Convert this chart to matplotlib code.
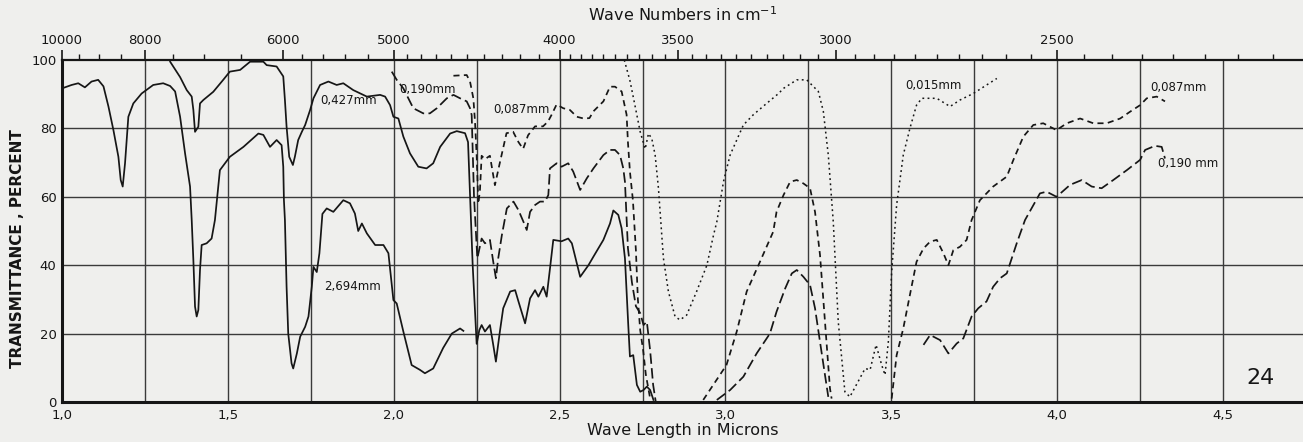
import numpy as np
import matplotlib
matplotlib.use("Agg")
import matplotlib.pyplot as plt

plt.rcParams['font.family'] = ['DejaVu Sans']

#%% Data (wavelength in microns, transmittance in percent)
# 2.694 mm, solid
wl_2694 = [1.000, 1.029, 1.049, 1.069, 1.089, 1.109, 1.125, 1.140, 1.155, 1.170,
           1.177, 1.183, 1.190, 1.200, 1.215, 1.240, 1.275, 1.305, 1.326, 1.341,
           1.356, 1.371, 1.386, 1.391, 1.396, 1.401, 1.406, 1.411, 1.416, 1.421,
           1.436, 1.451, 1.461, 1.476, 1.506, 1.547, 1.592, 1.607, 1.627, 1.647,
           1.662, 1.667, 1.669, 1.672, 1.677, 1.682, 1.692, 1.697, 1.708, 1.718,
           1.733, 1.743, 1.753, 1.758, 1.768, 1.776, 1.785, 1.798, 1.818, 1.848,
           1.868, 1.883, 1.893, 1.904, 1.919, 1.944, 1.969, 1.984, 1.999, 2.009,
           2.029, 2.054, 2.079, 2.094, 2.119, 2.149, 2.175, 2.200, 2.210]
t_2694 = [91.7, 92.7, 93.2, 92.0, 93.7, 94.2, 92.3, 86.4, 79.5, 71.7,
          64.9, 63.0, 69.8, 83.4, 87.3, 90.2, 92.7, 93.2, 92.4, 90.8,
          83.4, 72.7, 63.0, 53.2, 41.5, 27.9, 25.0, 26.9, 38.6, 45.9,
          46.4, 47.8, 53.2, 67.8, 71.7, 74.6, 78.5, 78.1, 74.6, 76.6,
          75.1, 68.8, 59.0, 53.2, 33.7, 20.0, 11.3, 9.8, 14.2, 19.1,
          22.0, 25.0, 33.7, 39.5, 38.0, 43.5, 55.0, 56.6, 55.6, 59.0,
          58.1, 55.1, 50.0, 52.2, 49.3, 45.9, 45.9, 43.5, 29.8, 28.8,
          20.6, 10.8, 9.4, 8.4, 9.8, 15.8, 20.0, 21.5, 20.8]

# 0.427 mm, solid
wl_0427 = [1.326, 1.356, 1.376, 1.391, 1.396, 1.401, 1.411, 1.416, 1.426, 1.456,
           1.486, 1.506, 1.537, 1.567, 1.607, 1.617, 1.647, 1.667, 1.672, 1.677,
           1.685, 1.696, 1.702, 1.712, 1.723, 1.733, 1.748, 1.758, 1.778, 1.803,
           1.828, 1.848, 1.878, 1.919, 1.959, 1.974, 1.989, 1.999, 2.014, 2.029,
           2.049, 2.074, 2.099, 2.119, 2.140, 2.170, 2.190, 2.215, 2.224, 2.238,
           2.250, 2.258, 2.265, 2.275, 2.290, 2.300, 2.308, 2.320, 2.330, 2.351,
           2.366, 2.376, 2.396, 2.411, 2.426, 2.436, 2.451, 2.461, 2.471, 2.481,
           2.506, 2.526, 2.537, 2.562, 2.587, 2.602, 2.632, 2.652, 2.662, 2.677,
           2.687, 2.697, 2.707, 2.712, 2.722, 2.733, 2.743, 2.753, 2.763, 2.773,
           2.783]
t_0427 = [99.5, 95.0, 91.2, 89.3, 85.4, 79.0, 80.5, 87.3, 88.3, 90.7,
          94.2, 96.6, 97.1, 99.5, 99.5, 98.5, 98.1, 95.2, 88.3, 80.5,
          71.7, 69.3, 71.7, 76.6, 79.0, 81.0, 85.4, 88.8, 92.7, 93.7,
          92.7, 93.2, 91.2, 89.3, 89.8, 89.3, 86.8, 83.4, 82.9, 77.6,
          72.7, 68.8, 68.3, 69.8, 74.6, 78.5, 79.2, 78.6, 76.0, 40.0,
          17.0, 21.0, 22.5, 20.6, 22.5, 16.7, 11.8, 20.6, 27.4, 32.3,
          32.7, 29.4, 23.0, 30.3, 32.7, 30.8, 33.7, 30.8, 39.0, 47.4,
          47.0, 47.8, 46.4, 36.6, 40.0, 42.5, 47.4, 52.2, 56.0, 54.7,
          50.8, 42.0, 22.5, 13.3, 13.7, 5.0, 3.0, 3.5, 4.5, 3.5,
          0.6]

# 0.190 mm, long dashes (three pieces)
wl_0190_a = [1.994, 2.009, 2.029, 2.044, 2.059, 2.089, 2.109, 2.130, 2.160, 2.180,
             2.200, 2.220, 2.230, 2.235, 2.242, 2.252, 2.265, 2.275, 2.290, 2.300,
             2.308, 2.315, 2.326, 2.341, 2.361, 2.376, 2.391, 2.401, 2.411, 2.426,
             2.441, 2.456, 2.466, 2.471, 2.491, 2.506, 2.526, 2.541, 2.562, 2.582,
             2.602, 2.632, 2.652, 2.667, 2.682, 2.692, 2.697, 2.706, 2.718, 2.730,
             2.743, 2.753, 2.763, 2.773, 2.782, 2.790]
t_0190_a = [96.6, 94.2, 91.7, 88.8, 85.9, 84.4, 84.4, 85.9, 88.8, 89.8,
            88.8, 87.9, 85.9, 83.9, 60.0, 42.0, 47.8, 46.4, 47.4, 41.0,
            36.2, 42.0, 48.8, 56.6, 58.6, 56.1, 52.7, 50.3, 55.6, 57.6,
            58.6, 58.6, 60.5, 68.3, 69.8, 68.8, 69.8, 67.4, 62.0, 65.4,
            68.3, 72.2, 73.7, 73.7, 72.2, 68.3, 64.4, 45.0, 35.0, 28.0,
            26.0, 22.5, 23.5, 15.0, 5.0, 0.0]
wl_0190_b = [2.974, 3.014, 3.054, 3.094, 3.134, 3.154, 3.180, 3.200, 3.215, 3.235,
             3.255, 3.270, 3.285, 3.300, 3.310]
t_0190_b = [0.6, 3.5, 7.4, 14.2, 20.0, 26.4, 33.2, 37.6, 38.6, 36.6,
            34.2, 27.4, 17.6, 7.9, 1.5]
wl_0190_c = [3.597, 3.617, 3.647, 3.672, 3.697, 3.717, 3.742, 3.762, 3.787, 3.807,
             3.828, 3.848, 3.878, 3.903, 3.948, 3.968, 3.998, 4.039, 4.074, 4.104,
             4.134, 4.169, 4.210, 4.250, 4.265, 4.295, 4.315, 4.325]
t_0190_c = [16.7, 19.6, 18.1, 14.2, 17.1, 18.6, 25.0, 27.4, 29.4, 33.7,
            36.2, 37.6, 46.4, 53.2, 61.0, 61.5, 60.0, 63.5, 64.9, 63.0,
            62.5, 64.9, 67.8, 70.8, 73.7, 74.9, 74.6, 71.2]

# 0.087 mm, short dashes (three pieces)
wl_0087_a = [2.180, 2.220, 2.230, 2.240, 2.245, 2.250, 2.255, 2.260, 2.265, 2.275,
             2.290, 2.305, 2.320, 2.340, 2.360, 2.376, 2.390, 2.405, 2.426, 2.450,
             2.465, 2.476, 2.491, 2.511, 2.531, 2.552, 2.572, 2.590, 2.602, 2.632,
             2.652, 2.667, 2.687, 2.702, 2.706, 2.712, 2.721, 2.730, 2.736, 2.743,
             2.752, 2.760, 2.773]
t_0087_a = [95.4, 95.6, 93.7, 88.8, 82.0, 72.0, 58.0, 62.0, 72.0, 71.0,
            72.0, 63.4, 70.0, 78.6, 79.0, 76.0, 74.0, 78.0, 80.6, 80.6,
            82.0, 84.0, 87.0, 85.9, 85.4, 83.4, 82.9, 83.0, 85.0, 87.9,
            92.2, 92.2, 90.8, 84.0, 76.0, 67.4, 59.0, 44.4, 30.0, 21.0,
            15.0, 8.0, 1.0]
wl_0087_b = [2.933, 3.003, 3.034, 3.064, 3.104, 3.144, 3.154, 3.175, 3.195, 3.215,
             3.235, 3.255, 3.270, 3.285, 3.300, 3.315, 3.320]
t_0087_b = [0.6, 10.8, 20.6, 32.3, 41.0, 49.8, 55.6, 60.5, 64.4, 64.9,
            63.9, 62.5, 55.6, 43.0, 23.5, 4.0, 1.0]
wl_0087_c = [3.501, 3.516, 3.536, 3.556, 3.576, 3.597, 3.617, 3.637, 3.657, 3.672,
             3.687, 3.707, 3.727, 3.742, 3.767, 3.807, 3.848, 3.868, 3.898, 3.928,
             3.958, 3.998, 4.029, 4.069, 4.109, 4.149, 4.190, 4.220, 4.250, 4.270,
             4.300, 4.325]
t_0087_c = [1.0, 13.7, 21.5, 31.3, 41.0, 44.9, 46.9, 47.4, 43.5, 40.0,
            44.4, 45.4, 47.4, 53.2, 59.0, 63.0, 65.9, 70.8, 77.6, 81.0,
            81.5, 79.5, 81.5, 82.9, 81.5, 81.5, 82.9, 84.9, 86.8, 88.8,
            89.3, 87.9]

# 0.015 mm, dotted
wl_0015 = [2.695, 2.712, 2.727, 2.743, 2.758, 2.768, 2.778, 2.788, 2.798, 2.808,
           2.813, 2.828, 2.848, 2.863, 2.883, 2.913, 2.944, 2.964, 2.974, 2.994,
           3.014, 3.054, 3.084, 3.124, 3.160, 3.175, 3.215, 3.245, 3.280, 3.295,
           3.310, 3.325, 3.340, 3.360, 3.375, 3.400, 3.421, 3.436, 3.454, 3.471,
           3.481, 3.491, 3.501, 3.516, 3.536, 3.556, 3.576, 3.592, 3.637, 3.677,
           3.707, 3.747, 3.818]
t_0015 = [100.0, 94.0, 86.8, 79.0, 74.0, 78.5, 77.0, 72.2, 62.5, 48.8,
          42.0, 32.3, 25.0, 24.0, 25.4, 32.3, 40.0, 48.8, 52.7, 64.4,
          72.2, 81.0, 84.0, 87.3, 90.2, 91.7, 94.2, 94.2, 90.8, 85.0,
          72.2, 52.7, 23.5, 3.0, 1.5, 6.0, 9.8, 9.4, 16.7, 10.8,
          7.9, 17.6, 38.0, 57.6, 72.2, 80.0, 86.8, 88.8, 88.8, 86.4,
          88.3, 90.2, 94.6]

# axis ticks
micron_ticks = [1.0, 1.5, 2.0, 2.5, 3.0, 3.5, 4.0, 4.5]
micron_labels = ['1,0', '1,5', '2,0', '2,5', '3,0', '3,5', '4,0', '4,5']
pct_ticks = [0, 20, 40, 60, 80, 100]
wn_major = [10000, 8000, 6000, 5000, 4000, 3500, 3000, 2500]
wn_minor = (list(range(9500, 6000, -500)) + list(range(5800, 5000, -200))
            + list(range(4900, 4000, -100)) + list(range(3950, 2100, -50)))

#%% Figure
paper = '#efefed'
ink = '#161616'
fig = plt.figure(figsize=(13.03, 4.42), dpi=100, facecolor=paper)
ax = fig.add_axes([62/1303, 1-402/442, 1-62/1303, 342/442], facecolor=paper)

ax.set_xlim(1.0, 4.741)
ax.set_ylim(0, 100)

# grid
for g in np.arange(1.25, 4.6, 0.25):
    ax.axvline(g, color='#3a3a3a', lw=1.0, zorder=1)
for g in [20, 40, 60, 80]:
    ax.axhline(g, color='#3a3a3a', lw=1.0, zorder=1)

lw = 1.25
ax.plot(wl_2694, t_2694, color=ink, lw=lw, zorder=3)
ax.plot(wl_0427, t_0427, color=ink, lw=lw, zorder=3)
for x, y in [(wl_0190_a, t_0190_a), (wl_0190_b, t_0190_b), (wl_0190_c, t_0190_c)]:
    ax.plot(x, y, color=ink, lw=lw, ls=(0, (6, 2.5)), zorder=3)
for x, y in [(wl_0087_a, t_0087_a), (wl_0087_b, t_0087_b), (wl_0087_c, t_0087_c)]:
    ax.plot(x, y, color=ink, lw=lw, ls=(0, (3.5, 2.5)), zorder=3)
ax.plot(wl_0015, t_0015, color=ink, lw=1.1, ls=(0, (1.2, 2.2)), zorder=3)

# curve labels
lab = dict(fontsize=8.5, color=ink, ha='center', va='center')
ax.text(1.865, 88.3, '0,427mm', **lab)
ax.text(2.103, 91.5, '0,190mm', **lab)
ax.text(2.384, 85.4, '0,087mm', **lab)
ax.text(1.877, 33.9, '2,694mm', **lab)
ax.text(3.626, 92.4, '0,015mm', **lab)
ax.text(4.365, 92.1, '0,087mm', **lab)
ax.text(4.395, 69.8, '0,190 mm', **lab)
ax.text(4.612, 7.0, '24', fontsize=16, color=ink, ha='center', va='center')

# axes, ticks
for s in ['left', 'bottom']:
    ax.spines[s].set_linewidth(2.2)
    ax.spines[s].set_color(ink)
ax.spines['top'].set_linewidth(1.6)
ax.spines['top'].set_color(ink)
ax.spines['right'].set_visible(False)

ax.set_xticks(micron_ticks)
ax.set_xticklabels(micron_labels)
ax.set_yticks(pct_ticks)
ax.tick_params(axis='both', length=0, labelsize=9.5, colors=ink)
ax.tick_params(axis='x', pad=5)
ax.tick_params(axis='y', pad=4)
ax.set_xlabel('Wave Length in Microns', fontsize=11.5, color=ink, labelpad=1)
ax.set_ylabel('TRANSMITTANCE , PERCENT', fontsize=11, fontweight='bold', color=ink,
              va='center')
ax.yaxis.set_label_coords(-0.036, 0.45)

def wn(x):
    x = np.asarray(x, dtype=float)
    return 1e4 / np.where(x == 0, 1e-9, x)

top = ax.secondary_xaxis('top', functions=(wn, wn))
top.set_xticks(wn_major)
top.set_xticklabels([str(v) for v in wn_major])
top.set_xticks(wn_minor, minor=True)
top.tick_params(axis='x', which='major', direction='out', length=7, width=1.2,
                labelsize=9.5, pad=2, colors=ink)
top.tick_params(axis='x', which='minor', direction='out', length=4, width=1.0,
                colors=ink)
top.spines['top'].set_visible(False)
top.set_xlabel('Wave Numbers in cm$^{-1}$', fontsize=11.5, color=ink, labelpad=10)

fig.savefig('out.png', dpi=100, facecolor=paper)
